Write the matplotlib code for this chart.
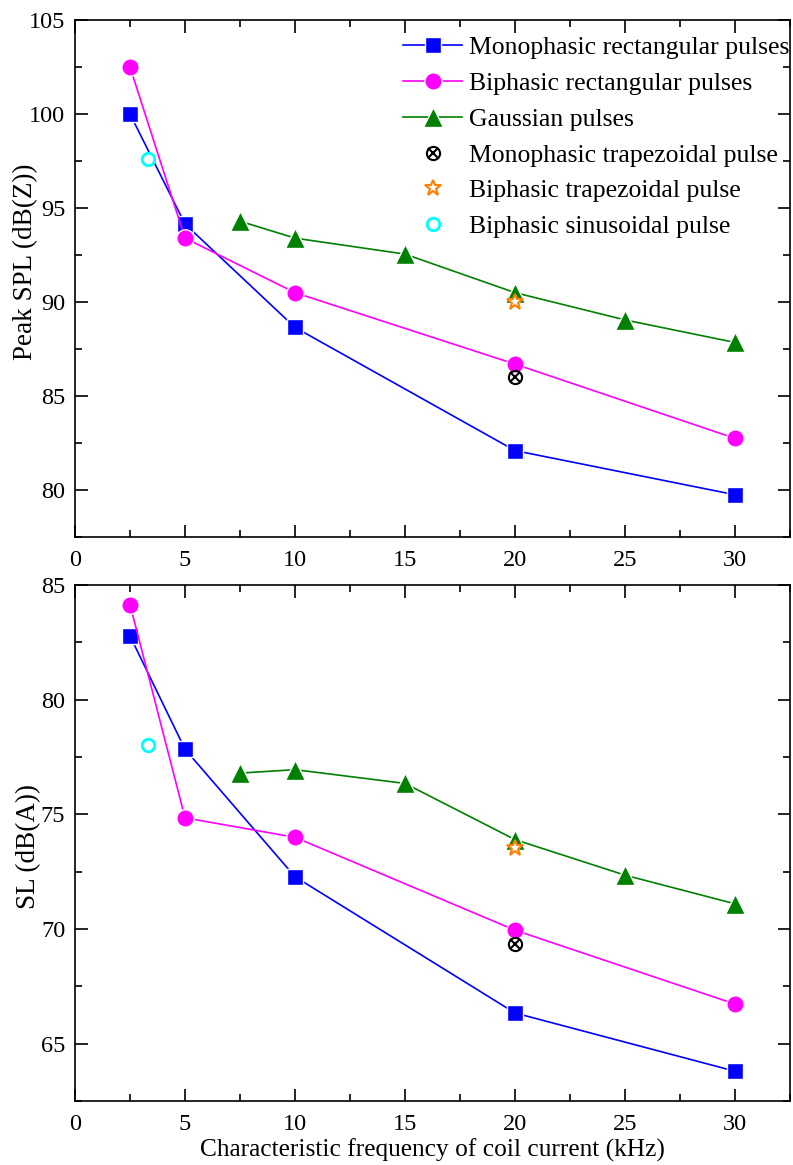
import matplotlib
matplotlib.use("Agg")
import matplotlib.pyplot as plt
from matplotlib.ticker import MultipleLocator
from matplotlib.legend_handler import HandlerTuple

plt.rcParams['font.family'] = ['Liberation Serif', 'DejaVu Serif']

# frequencies (kHz)
f_rect = [2.5, 5, 10, 20, 30]
f_gauss = [7.5, 10, 15, 20, 25, 30]
f_trap = [20]
f_sin = [3.33]

# Peak SPL, dB(Z)
spl_mono = [100.0, 94.15, 88.65, 82.1, 79.75]
spl_bi = [102.5, 93.4, 90.5, 86.7, 82.75]
spl_gauss = [94.3, 93.4, 92.55, 90.5, 89.05, 87.85]
spl_mono_trap = [86.0]
spl_bi_trap = [90.0]
spl_sin = [97.6]

# SL, dB(A)
sl_mono = [82.78, 77.84, 72.28, 66.34, 63.8]
sl_bi = [84.15, 74.85, 74.0, 69.95, 66.73]
sl_gauss = [76.8, 76.95, 76.35, 73.9, 72.35, 71.1]
sl_mono_trap = [69.35]
sl_bi_trap = [73.55]
sl_sin = [78.03]

fig = plt.figure(figsize=(7.93, 11.65), dpi=100)
ax1 = fig.add_axes([0.0946, 0.539, 0.9016, 0.4438])
ax2 = fig.add_axes([0.0946, 0.0549, 0.9016, 0.4429])


def draw(ax, mono, bi, gauss, mono_trap, bi_trap, sin):
    h1, = ax.plot(f_rect, mono, color='#0000FF', lw=1.2, marker='s', ms=11.5,
                  mec='white', mew=1.0, label='Monophasic rectangular pulses')
    h2, = ax.plot(f_rect, bi, color='#FF00FF', lw=1.2, marker='o', ms=12.5,
                  mec='white', mew=1.0, label='Biphasic rectangular pulses')
    h3, = ax.plot(f_gauss, gauss, color='#008000', lw=1.2, marker='^', ms=14,
                  mec='white', mew=1.0, label='Gaussian pulses')
    h4a, = ax.plot(f_trap, mono_trap, ls='none', marker='o', ms=9.5, mfc='none',
                   mec='black', mew=1.5)
    h4b, = ax.plot(f_trap, mono_trap, ls='none', marker='x', ms=7, mec='black', mew=1.5)
    h5, = ax.plot(f_trap, bi_trap, ls='none', marker='*', ms=12, mfc='white',
                  mec='#FF7F00', mew=1.5)
    h6, = ax.plot(f_sin, sin, ls='none', marker='o', ms=9, mfc='white',
                  mec='#00FFFF', mew=2)
    ax.set_xlim(0, 32.5)
    ax.xaxis.set_major_locator(MultipleLocator(5))
    ax.xaxis.set_minor_locator(MultipleLocator(2.5))
    ax.yaxis.set_major_locator(MultipleLocator(5))
    ax.yaxis.set_minor_locator(MultipleLocator(2.5))
    ax.tick_params(which='both', direction='in', top=True, right=True,
                   labelsize=17.5, width=1.2)
    ax.tick_params(which='major', length=9)
    ax.tick_params(which='minor', length=5)
    ax.tick_params(axis='x', pad=9)
    ax.tick_params(axis='y', pad=7)
    for s in ax.spines.values():
        s.set_linewidth(1.2)
    return [h1, h2, h3, (h4a, h4b), h5, h6]


handles = draw(ax1, spl_mono, spl_bi, spl_gauss, spl_mono_trap, spl_bi_trap, spl_sin)
draw(ax2, sl_mono, sl_bi, sl_gauss, sl_mono_trap, sl_bi_trap, sl_sin)

ax1.set_ylim(77.5, 105)
ax2.set_ylim(62.5, 85)

ax1.set_ylabel('Peak SPL (dB(Z))', fontsize=19.5)
ax1.yaxis.set_label_coords(-0.052, 0.532)
ax2.set_ylabel('SL (dB(A))', fontsize=19.5)
ax2.yaxis.set_label_coords(-0.048, 0.494)
ax2.set_xlabel('Characteristic frequency of coil current (kHz)', fontsize=18.3)
ax2.xaxis.set_label_coords(0.5, -0.072)

labels = ['Monophasic rectangular pulses', 'Biphasic rectangular pulses',
          'Gaussian pulses', 'Monophasic trapezoidal pulse',
          'Biphasic trapezoidal pulse', 'Biphasic sinusoidal pulse']
ax1.legend(handles, labels, loc='upper right', frameon=False, fontsize=18.5,
           handlelength=2.3, handletextpad=0.25, labelspacing=0.5,
           borderaxespad=0.0, borderpad=0.2, bbox_to_anchor=(1.006, 0.979),
           handler_map={tuple: HandlerTuple(ndivide=1)})

fig.savefig('out.png', dpi=100)
